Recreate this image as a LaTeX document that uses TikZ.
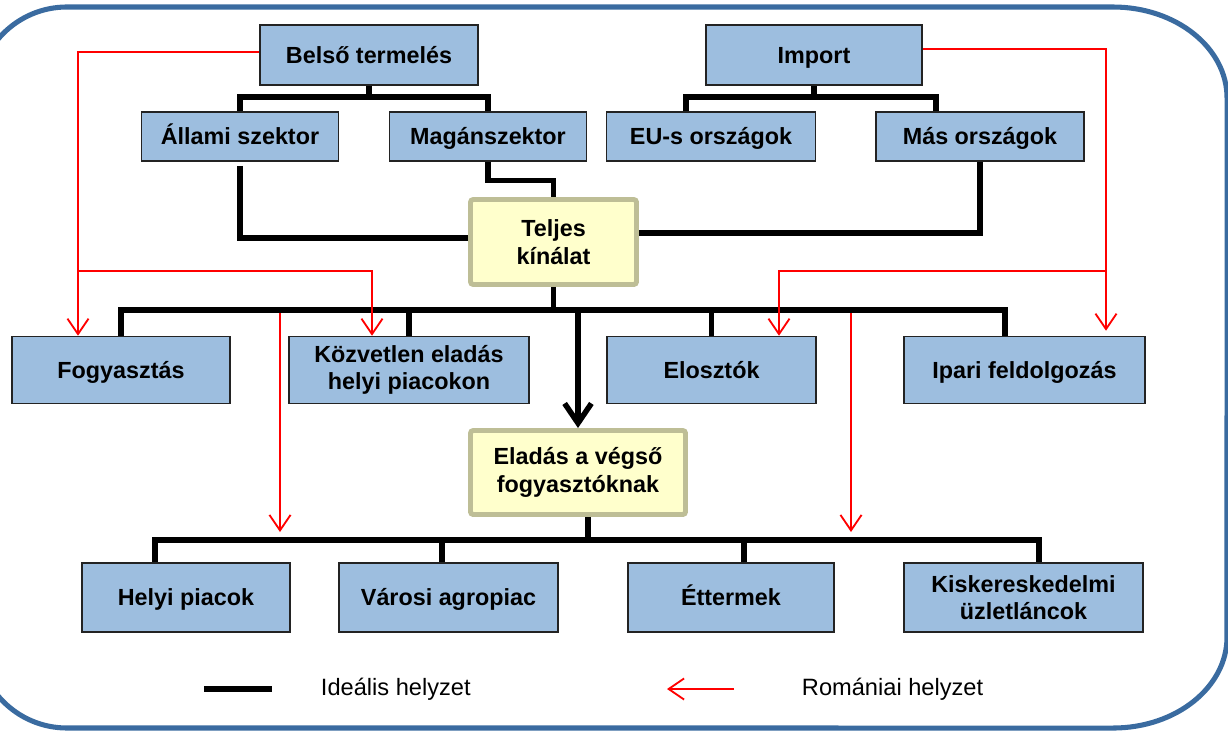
\documentclass[tikz,border=0pt]{standalone}
\usepackage{fontspec}
\setmainfont{Liberation Sans}
\usetikzlibrary{arrows.meta, calc}

\definecolor{boxblue}{RGB}{157,190,223}
\definecolor{boxline}{RGB}{35,35,35}
\definecolor{paleyellow}{RGB}{255,255,204}
\definecolor{olivegray}{RGB}{190,190,150}
\definecolor{frameblue}{RGB}{58,107,160}
\definecolor{romred}{RGB}{255,0,0}

\begin{document}
\begin{tikzpicture}[
    x=0.025cm, y=-0.025cm,
    bluebox/.style={
        draw=boxline, fill=boxblue, line width=1.1pt,
        inner sep=0pt, align=center,
        font=\fontsize{16.6}{19.5}\selectfont\bfseries
    },
    sumbox/.style={
        draw=olivegray, fill=paleyellow, line width=3.5pt,
        rounded corners=2pt, inner sep=0pt, align=center,
        font=\fontsize{16.6}{19.5}\selectfont\bfseries
    },
    oneline/.style={text height=14pt, text depth=2.2pt},
    topbox/.style={minimum height=1.5cm},
    subbox/.style={minimum height=1.225cm},
    midbox/.style={minimum height=1.675cm},
    lowbox/.style={minimum height=1.725cm},
    ideal/.style={line width=3.8pt, black},
    bigarrow/.style={line width=3.9pt, black, -{Straight Barb[length=14pt, width=19pt]}},
    roman/.style={line width=1.3pt, romred},
    romarrow/.style={roman, -{Straight Barb[length=11pt, width=15pt]}},
    legtext/.style={font=\fontsize{16.8}{19.5}\selectfont, anchor=west},
    frame/.style={draw=frameblue, line width=3.6pt},
]

\useasboundingbox (0,0) rectangle (1228,731);

% Row y-coordinates (pixels, downwards)
\def\rA{55}
\def\rB{136.5}
\def\rC{242}
\def\rD{370}
\def\rE{472.5}
\def\rF{597.5}
\def\rL{689}

% ====== FRAME ======
\draw[frame] (67,7) -- (1113,7)
    arc[start angle=90, end angle=0, x radius=2.85cm, y radius=2.275cm]
    -- (1227,637)
    arc[start angle=0, end angle=-90, x radius=2.85cm, y radius=2.275cm]
    -- (67,728)
    arc[start angle=270, end angle=180, radius=2.25cm]
    -- (-23,97)
    arc[start angle=180, end angle=90, radius=2.25cm] -- cycle;

% ====== SOURCES ======
\node[bluebox, oneline, topbox, minimum width=5.45cm] (belso) at (369,\rA) {Belső termelés};
\node[bluebox, oneline, topbox, minimum width=5.4cm] (import) at (814,\rA) {Import};

\node[bluebox, oneline, subbox, minimum width=4.925cm] (allami) at (240,\rB) {Állami szektor};
\node[bluebox, oneline, subbox, minimum width=4.925cm] (magan) at (488,\rB) {Magánszektor};
\node[bluebox, oneline, subbox, minimum width=5.225cm] (eu) at (711,\rB) {EU-s országok};
\node[bluebox, oneline, subbox, minimum width=5.2cm] (mas) at (980,\rB) {Más országok};

\node[sumbox, minimum width=4.15cm, minimum height=2.125cm] (teljes) at (553.5,\rC) {Teljes\\kínálat};

% ====== CHANNELS ======
\node[bluebox, oneline, midbox, minimum width=5.45cm] (fogy) at (121,\rD) {Fogyasztás};
\node[bluebox, midbox, minimum width=6.0cm] (kozv) at (409,\rD) {Közvetlen eladás\\helyi piacokon};
\node[bluebox, oneline, midbox, minimum width=5.225cm] (eloszt) at (711.5,\rD) {Elosztók};
\node[bluebox, oneline, midbox, minimum width=6.025cm] (ipari) at (1024.5,\rD) {Ipari feldolgozás};

\node[sumbox, minimum width=5.375cm, minimum height=2.1cm] (eladas) at (578,\rE) {Eladás a végső\\fogyasztóknak};

% ====== OUTLETS ======
\node[bluebox, oneline, lowbox, minimum width=5.2cm] (helyi) at (186,\rF) {Helyi piacok};
\node[bluebox, oneline, lowbox, minimum width=5.475cm] (varosi) at (448.5,\rF) {Városi agropiac};
\node[bluebox, oneline, lowbox, minimum width=5.15cm] (etterm) at (731,\rF) {Éttermek};
\node[bluebox, lowbox, minimum width=5.975cm] (kisker) at (1023.5,\rF) {Kiskereskedelmi\\üzletláncok};

% ====== IDEAL FLOW (black) ======
\coordinate (tb) at (369,97);
\coordinate (ib) at (814,97);
\draw[ideal] (belso.south) -- (tb);
\draw[ideal] (allami.north) |- (tb) -| (magan.north);
\draw[ideal] (import.south) -- (ib);
\draw[ideal] ($(eu.north)+(-25,0)$) |- (ib) -| ($(mas.north)+(-44,0)$);

\draw[ideal] ($(allami.south)+(0,4)$) |- ($(teljes.west)+(0,-4)$);
\draw[ideal] (magan.south) -- ++(0,19) -| (teljes.north);
\draw[ideal] (mas.south) |- ($(teljes.east)+(0,-9)$);

% middle bus
\coordinate (m1) at (121,310);
\coordinate (m4) at (1005,310);
\draw[ideal] (teljes.south) -- (teljes.south |- m1);
\draw[ideal] (m1 |- fogy.north) -- (m1) -- (m4) -- (m4 |- ipari.north);
\draw[ideal] (kozv.north) -- (kozv.north |- m1);
\draw[ideal] (eloszt.north) -- (eloszt.north |- m1);
\draw[bigarrow] (eladas.north |- m1) -- (eladas.north);

% bottom bus
\coordinate (e2) at (588,540);
\coordinate (d1) at (155,540);
\coordinate (d2) at (442,540);
\coordinate (d3) at (744,540);
\coordinate (d4) at (1039,540);
\draw[ideal] (eladas.south -| e2) -- (e2);
\draw[ideal] (d1 |- helyi.north) -- (d1) -- (d4) -- (d4 |- kisker.north);
\draw[ideal] (d2) -- (d2 |- varosi.north);
\draw[ideal] (d3) -- (d3 |- etterm.north);

% ====== ROMANIAN FLOW (red) ======
\coordinate (rl) at (78,271);
\coordinate (rk) at (372,271);
\draw[romarrow] ($(belso.west)+(0,-3)$) -| (rl |- fogy.north);
\draw[romarrow] (rl) -- (rk) -- (rk |- kozv.north);

\coordinate (rr) at (1106,271);
\coordinate (re) at (779,271);
\draw[romarrow] ($(import.east)+(0,-6)$) -| ($(rr |- ipari.north)+(0,-5)$);
\draw[romarrow] (rr) -- (re) -- (re |- eloszt.north);

\coordinate (rm1) at (280,313);
\coordinate (rm1e) at (280,532);
\coordinate (rm2) at (851,313);
\coordinate (rm2e) at (851,532);
\draw[romarrow] (rm1) -- (rm1e);
\draw[romarrow] (rm2) -- (rm2e);

% ====== LEGEND ======
\coordinate (li1) at (204,\rL);
\coordinate (li2) at (272,\rL);
\draw[ideal, line width=4.4pt] (li1) -- (li2);
\node[legtext] (lgideal) at (316,\rL) {Ideális helyzet};

\coordinate (lr1) at (734,\rL);
\coordinate (lr2) at (667,\rL);
\draw[romarrow] (lr1) -- (lr2);
\node[legtext] (lgroman) at (797,\rL) {Romániai helyzet};

\end{tikzpicture}
\end{document}
